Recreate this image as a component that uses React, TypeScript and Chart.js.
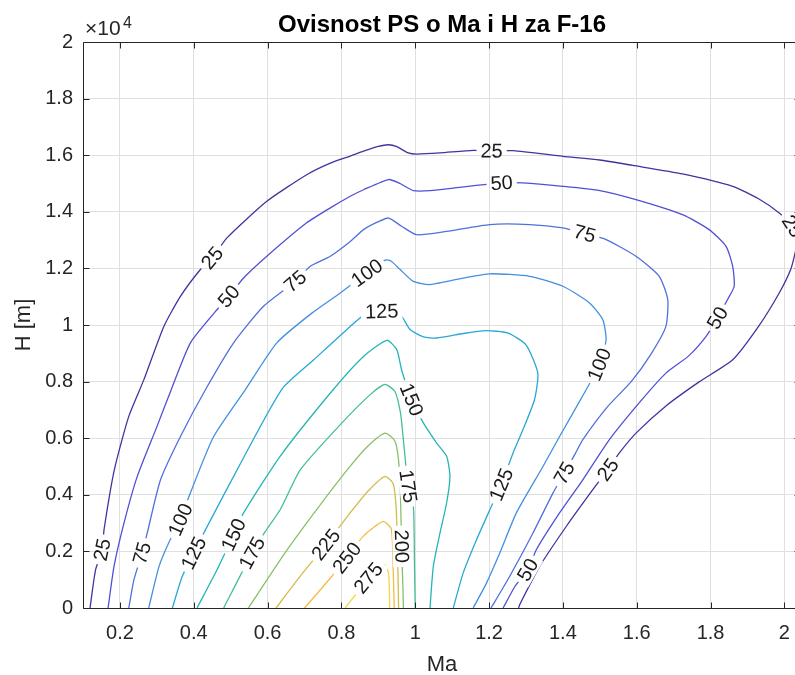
import React, { useEffect, useRef } from "react";
import { Chart, registerables } from "chart.js";
Chart.register(...registerables);

// ---- axes ----
const xTickValues = [0.2, 0.4, 0.6, 0.8, 1, 1.2, 1.4, 1.6, 1.8, 2];
const yTickValues = [0, 2000, 4000, 6000, 8000, 10000, 12000, 14000, 16000, 18000, 20000];
const xMin = 0.1;
const xMax = 2.045;
const yMin = 0;
const yMax = 20000;

// ---- contour levels & colours (parula) ----
const levels = [25, 50, 75, 100, 125, 150, 175, 200, 225, 250, 275];
const levelColors = [
  "#44339e", "#5050d4", "#5070de", "#4490e0", "#28a8d4", "#25b5b3",
  "#45bd98", "#88c068", "#d0be4c", "#f5ba48", "#f0d840",
];

// ---- contour lines [Ma, H] ----
const c25 = [
  [0.119, 0], [0.134, 1350], [0.152, 2060], [0.157, 2770], [0.185, 4890], [0.224, 6770],
  [0.265, 8070], [0.319, 9950], [0.364, 11010], [0.418, 11960], [0.45, 12370], [0.49, 13080],
  [0.598, 14370], [0.706, 15310], [0.77, 15720], [0.824, 15970], [0.86, 16140], [0.9, 16310],
  [0.928, 16370], [0.95, 16300], [0.981, 16080], [1.004, 16040], [1.067, 16080], [1.157, 16170],
  [1.207, 16150], [1.265, 16160], [1.4, 15960], [1.5, 15830], [1.589, 15640], [1.724, 15340],
  [1.86, 14900], [1.93, 14460], [1.986, 13960], [2.022, 13490], [2.035, 13000], [2.03, 12600],
  [2.017, 11960], [1.986, 11130], [1.93, 9950], [1.86, 8770], [1.77, 8000], [1.68, 7150],
  [1.598, 6180], [1.553, 5480], [1.522, 4890], [1.481, 4180], [1.409, 2880], [1.337, 1470],
  [1.283, 120], [1.28, 0],
];
const c50 = [
  [0.168, 0], [0.184, 1470], [0.211, 3000], [0.247, 4650], [0.3, 6400], [0.34, 7750],
  [0.391, 9370], [0.459, 10480], [0.495, 11010], [0.535, 11660], [0.598, 12430], [0.706, 13610],
  [0.77, 14140], [0.824, 14550], [0.86, 14780], [0.928, 15140], [0.959, 15000], [0.995, 14750],
  [1.04, 14750], [1.13, 14880], [1.234, 15020], [1.292, 15020], [1.4, 14900], [1.5, 14750],
  [1.598, 14430], [1.724, 13900], [1.796, 13370], [1.842, 12780], [1.86, 12070], [1.864, 11370],
  [1.846, 10900], [1.819, 10250], [1.788, 9600], [1.74, 8900], [1.679, 8300], [1.61, 7300],
  [1.526, 5950], [1.454, 4530], [1.391, 3360], [1.328, 2060], [1.305, 1350], [1.27, 760],
  [1.243, 120], [1.238, 0],
];
const c75 = [
  [0.224, 0], [0.238, 1000], [0.26, 1940], [0.274, 2650], [0.31, 4530], [0.364, 6060],
  [0.432, 7720], [0.508, 9370], [0.589, 10660], [0.675, 11540], [0.715, 12070], [0.77, 12430],
  [0.824, 12950], [0.86, 13370], [0.9, 13650], [0.928, 13780], [0.963, 13490], [1.004, 13190],
  [1.085, 13310], [1.202, 13550], [1.31, 13550], [1.4, 13430], [1.459, 13230], [1.517, 13020],
  [1.598, 12430], [1.661, 11720], [1.684, 10900], [1.679, 9950], [1.64, 9000], [1.585, 8000],
  [1.52, 7100], [1.454, 5950], [1.432, 5420], [1.404, 4770], [1.373, 4060], [1.319, 2650],
  [1.256, 1120], [1.21, 100], [1.205, 0],
];
const c100 = [
  [0.278, 0], [0.306, 1470], [0.332, 2300], [0.364, 3120], [0.387, 3940], [0.454, 6060],
  [0.54, 7720], [0.625, 9370], [0.72, 10420], [0.797, 11130], [0.869, 11840], [0.92, 12300],
  [0.935, 12250], [0.959, 11960], [0.995, 11540], [1.04, 11430], [1.13, 11660], [1.202, 11810],
  [1.31, 11720], [1.4, 11370], [1.472, 10780], [1.508, 10190], [1.517, 9480], [1.499, 8600],
  [1.463, 7710], [1.391, 6060], [1.346, 5000], [1.274, 3360], [1.229, 1940], [1.193, 880],
  [1.157, 0],
];
const c125 = [
  [0.342, 0], [0.369, 1120], [0.4, 1940], [0.432, 2770], [0.532, 5240], [0.64, 7750],
  [0.725, 8770], [0.824, 9950], [0.86, 10330], [0.909, 10480], [0.959, 10370], [0.986, 9840],
  [1.022, 9580], [1.058, 9540], [1.13, 9700], [1.19, 9800], [1.25, 9720], [1.3, 9300],
  [1.332, 8300], [1.323, 7360], [1.288, 6180], [1.265, 5480], [1.233, 4360], [1.202, 3470],
  [1.166, 2410], [1.13, 1240], [1.103, 0],
];
const c150 = [
  [0.409, 0], [0.463, 1350], [0.508, 2590], [0.535, 3360], [0.634, 5360], [0.778, 7720],
  [0.86, 8890], [0.923, 9460], [0.95, 9130], [0.963, 8420], [0.99, 7360], [1.022, 6540],
  [1.058, 5830], [1.085, 5360], [1.094, 4650], [1.085, 3710], [1.067, 2650], [1.049, 1470],
  [1.04, 0],
];
const c175 = [
  [0.481, 0], [0.558, 1940], [0.594, 2710], [0.634, 3470], [0.689, 4890], [0.797, 6480],
  [0.878, 7540], [0.918, 7900], [0.945, 7650], [0.96, 6900], [0.967, 6060], [0.981, 4300],
  [0.995, 3590], [0.998, 1500], [1.0, 0],
];
const c200 = [
  [0.548, 0], [0.65, 2000], [0.74, 3600], [0.82, 4950], [0.87, 5700], [0.918, 6180],
  [0.945, 5900], [0.955, 5200], [0.96, 4000], [0.963, 2180], [0.966, 1000], [0.968, 0],
];
const c225 = [
  [0.623, 0], [0.69, 1150], [0.758, 2240], [0.82, 3300], [0.87, 4100], [0.918, 4650],
  [0.94, 4400], [0.948, 3600], [0.952, 2000], [0.955, 0],
];
const c250 = [
  [0.7, 0], [0.76, 900], [0.815, 1770], [0.86, 2550], [0.913, 3060], [0.935, 2800],
  [0.94, 1500], [0.943, 0],
];
const c275 = [
  [0.81, 0], [0.84, 500], [0.873, 1060], [0.9, 1450], [0.918, 1530], [0.928, 1200],
  [0.931, 0],
];
const contours = [c25, c50, c75, c100, c125, c150, c175, c200, c225, c250, c275];

// ---- inline contour labels [Ma, H] ----
const lab25 = [[0.152, 2060], [0.45, 12370], [1.207, 16150], [2.022, 13490], [1.522, 4890]];
const lab50 = [[0.495, 11010], [1.234, 15020], [1.819, 10250], [1.305, 1350]];
const lab75 = [[0.26, 1940], [0.675, 11540], [1.459, 13230], [1.404, 4770]];
const lab100 = [[0.364, 3120], [0.869, 11840], [1.499, 8600]];
const lab125 = [[0.4, 1940], [0.909, 10480], [1.233, 4360]];
const lab150 = [[0.508, 2590], [0.99, 7360]];
const lab175 = [[0.558, 1940], [0.981, 4300]];
const lab200 = [[0.963, 2180]];
const lab225 = [[0.758, 2240]];
const lab250 = [[0.815, 1770]];
const lab275 = [[0.873, 1060]];
const labels = [lab25, lab50, lab75, lab100, lab125, lab150, lab175, lab200, lab225, lab250, lab275];

const FONT = '"Liberation Sans", Arial, Helvetica, sans-serif';
const AX = "#262626";

function labelGeometry(chart: any) {
  const xs = chart.scales.x;
  const ys = chart.scales.y;
  const out: any[] = [];
  const ctx = chart.ctx;
  ctx.save();
  ctx.font = `20px ${FONT}`;
  labels.forEach((list, li) => {
    const pts = contours[li].map(([a, b]) => [xs.getPixelForValue(a), ys.getPixelForValue(b)]);
    list.forEach(([lx, ly]) => {
      const px = xs.getPixelForValue(lx);
      const py = ys.getPixelForValue(ly);
      let best = 0;
      let bd = Infinity;
      pts.forEach((p, i) => {
        const d = (p[0] - px) ** 2 + (p[1] - py) ** 2;
        if (d < bd) { bd = d; best = i; }
      });
      const p0 = pts[Math.max(0, best - 1)];
      const p1 = pts[Math.min(pts.length - 1, best + 1)];
      let ang = Math.atan2(p1[1] - p0[1], p1[0] - p0[0]);
      if (ang > Math.PI / 2) ang -= Math.PI;
      if (ang < -Math.PI / 2) ang += Math.PI;
      const text = String(levels[li]);
      const w = ctx.measureText(text).width;
      out.push({ px, py, ang, text, w });
    });
  });
  ctx.restore();
  return out;
}

const contourPlugin = {
  id: "contourDecor",
  beforeDatasetsDraw(chart: any) {
    const ctx = chart.ctx;
    const geo = labelGeometry(chart);
    (chart as any)._labGeo = geo;
    ctx.save();
    ctx.beginPath();
    ctx.rect(0, 0, chart.width, chart.height);
    geo.forEach((g: any) => {
      const hw = g.w / 2 + 4;
      const hh = 9;
      const c = Math.cos(g.ang);
      const s = Math.sin(g.ang);
      const corners = [[-hw, -hh], [hw, -hh], [hw, hh], [-hw, hh]].map(([u, v]) => [
        g.px + u * c - v * s,
        g.py + u * s + v * c,
      ]);
      ctx.moveTo(corners[0][0], corners[0][1]);
      for (let i = 1; i < 4; i++) ctx.lineTo(corners[i][0], corners[i][1]);
      ctx.closePath();
    });
    ctx.clip("evenodd");
  },
  afterDatasetsDraw(chart: any) {
    const ctx = chart.ctx;
    ctx.restore();
    const geo = (chart as any)._labGeo || [];
    const area = chart.chartArea;
    ctx.save();
    ctx.beginPath();
    ctx.rect(area.left, area.top, area.right - area.left, area.bottom - area.top);
    ctx.clip();
    ctx.fillStyle = "#1a1a1a";
    ctx.font = `20px ${FONT}`;
    ctx.textAlign = "center";
    ctx.textBaseline = "middle";
    geo.forEach((g: any) => {
      ctx.save();
      ctx.translate(g.px, g.py);
      ctx.rotate(g.ang);
      ctx.fillText(g.text, 0, 1);
      ctx.restore();
    });
    ctx.restore();
  },
  afterDraw(chart: any) {
    const ctx = chart.ctx;
    const a = chart.chartArea;
    const xs = chart.scales.x;
    const ys = chart.scales.y;
    ctx.save();
    // box
    ctx.strokeStyle = AX;
    ctx.lineWidth = 1;
    ctx.beginPath();
    const L = Math.round(a.left) + 0.5;
    const R = Math.round(a.right) - 0.5;
    const T = Math.round(a.top) + 0.5;
    const B = Math.round(a.bottom) + 0.5;
    ctx.moveTo(L, T); ctx.lineTo(R, T); ctx.lineTo(R, B); ctx.lineTo(L, B); ctx.closePath();
    ctx.stroke();
    // inward ticks
    const tl = 6;
    ctx.beginPath();
    xTickValues.forEach((v) => {
      const x = Math.round(xs.getPixelForValue(v)) + 0.5;
      ctx.moveTo(x, B); ctx.lineTo(x, B - tl);
      ctx.moveTo(x, T); ctx.lineTo(x, T + tl);
    });
    yTickValues.forEach((v) => {
      const y = Math.round(ys.getPixelForValue(v)) + 0.5;
      ctx.moveTo(L, y); ctx.lineTo(L + tl, y);
      ctx.moveTo(R, y); ctx.lineTo(R - tl, y);
    });
    ctx.stroke();
    // title
    const cx = (a.left + a.right) / 2;
    ctx.fillStyle = "#000";
    ctx.textAlign = "center";
    ctx.textBaseline = "alphabetic";
    ctx.font = `bold 24px ${FONT}`;
    ctx.fillText("Ovisnost PS o Ma i H za F-16", cx, 32);
    // x label
    ctx.fillStyle = AX;
    ctx.font = `22px ${FONT}`;
    ctx.fillText("Ma", cx, 671);
    // y label
    ctx.save();
    ctx.translate(30, (a.top + a.bottom) / 2);
    ctx.rotate(-Math.PI / 2);
    ctx.fillText("H [m]", 0, 0);
    ctx.restore();
    // exponent
    ctx.textAlign = "left";
    ctx.font = `21px ${FONT}`;
    ctx.fillText("\u00d710", a.left + 2, 35);
    ctx.font = `16px ${FONT}`;
    ctx.fillText("4", a.left + 40, 28);
    ctx.restore();
  },
};

export default function App() {
  const ref = useRef<HTMLCanvasElement | null>(null);
  useEffect(() => {
    if (!ref.current) return;
    const datasets = contours.map((c, i) => ({
      label: String(levels[i]),
      data: c.map(([x, y]) => ({ x, y })),
      borderColor: levelColors[i],
      backgroundColor: levelColors[i],
      borderWidth: 1.3,
      showLine: true,
      pointRadius: 0,
      tension: 0.2,
      fill: false,
    }));
    const chart = new Chart(ref.current, {
      type: "scatter",
      data: { datasets },
      plugins: [contourPlugin],
      options: {
        responsive: false,
        animation: false,
        layout: { padding: { left: 0, right: 19, top: 42, bottom: 0 } },
        plugins: { legend: { display: false }, tooltip: { enabled: false }, title: { display: false } },
        scales: {
          x: {
            type: "linear",
            min: xMin,
            max: xMax,
            afterBuildTicks: (s: any) => { s.ticks = xTickValues.map((v) => ({ value: v })); },
            afterFit: (s: any) => { s.height = 67; },
            grid: { color: "#dfdfdf", drawTicks: false, lineWidth: 1 },
            border: { display: false },
            ticks: {
              autoSkip: false,
              maxRotation: 0,
              padding: 13,
              color: AX,
              font: { family: FONT, size: 20 },
              callback: (v: any) => String(Number(Number(v).toFixed(1))),
            },
          },
          y: {
            type: "linear",
            min: yMin,
            max: yMax,
            afterBuildTicks: (s: any) => { s.ticks = yTickValues.map((v) => ({ value: v })); },
            afterFit: (s: any) => { s.width = 83; },
            grid: { color: "#dfdfdf", drawTicks: false, lineWidth: 1 },
            border: { display: false },
            ticks: {
              autoSkip: false,
              padding: 10,
              color: AX,
              font: { family: FONT, size: 20 },
              callback: (v: any) => String(Number((Number(v) / 10000).toFixed(1))),
            },
          },
        },
      } as any,
    });
    return () => chart.destroy();
  }, []);
  return (
    <div style={{ position: "fixed", left: 0, top: 0, width: 795, height: 675, overflow: "hidden", background: "#fff" }}>
      <canvas ref={ref} width={820} height={675} style={{ display: "block" }} />
    </div>
  );
}
